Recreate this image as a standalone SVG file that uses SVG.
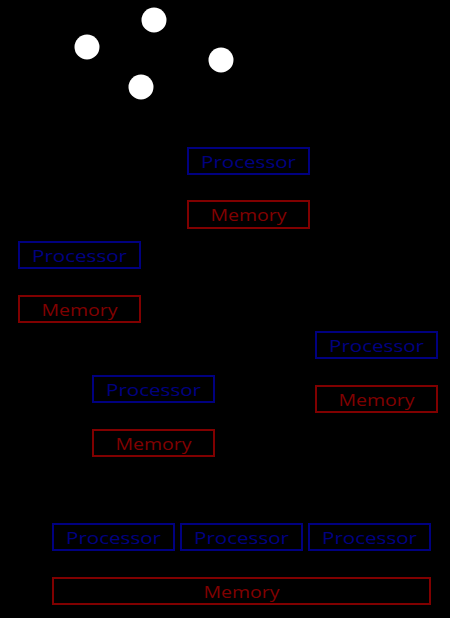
<svg xmlns="http://www.w3.org/2000/svg" width="450" height="618" viewBox="0 0 450 618">
<style>
.p rect{fill:none;stroke:#000080;stroke-width:2}
.p text{fill:#000080}
.m rect{fill:none;stroke:#800000;stroke-width:2}
.m text{fill:#800000}
text{font-family:"Open Sans","DejaVu Sans",sans-serif;font-size:17px;text-anchor:middle;dominant-baseline:central}
.dot{fill:#fff}
</style>
<rect width="450" height="618" fill="#000"/>
<g id="dots">
<circle class="dot" cx="154" cy="20" r="12.5"/>
<circle class="dot" cx="87" cy="47" r="12.5"/>
<circle class="dot" cx="221" cy="60" r="12.5"/>
<circle class="dot" cx="141" cy="87" r="12.5"/>
</g>
<g id="p1" class="p"><rect x="188" y="148" width="121" height="26"/><text x="248.5" y="161" textLength="95" lengthAdjust="spacingAndGlyphs">Processor</text></g>
<g id="m1" class="m"><rect x="188" y="201" width="121" height="27"/><text x="248.5" y="214.5" textLength="76" lengthAdjust="spacingAndGlyphs">Memory</text></g>
<g id="p2" class="p"><rect x="19" y="242" width="121" height="26"/><text x="79.5" y="255" textLength="95" lengthAdjust="spacingAndGlyphs">Processor</text></g>
<g id="m2" class="m"><rect x="19" y="296" width="121" height="26"/><text x="79.5" y="309" textLength="76" lengthAdjust="spacingAndGlyphs">Memory</text></g>
<g id="p3" class="p"><rect x="316" y="332" width="121" height="26"/><text x="376.5" y="345" textLength="95" lengthAdjust="spacingAndGlyphs">Processor</text></g>
<g id="m3" class="m"><rect x="316" y="386" width="121" height="26"/><text x="376.5" y="399" textLength="76" lengthAdjust="spacingAndGlyphs">Memory</text></g>
<g id="p4" class="p"><rect x="93" y="376" width="121" height="26"/><text x="153.5" y="389" textLength="95" lengthAdjust="spacingAndGlyphs">Processor</text></g>
<g id="m4" class="m"><rect x="93" y="430" width="121" height="26"/><text x="153.5" y="443" textLength="76" lengthAdjust="spacingAndGlyphs">Memory</text></g>
<g id="p5" class="p"><rect x="53" y="524" width="121" height="26"/><text x="113.5" y="537" textLength="95" lengthAdjust="spacingAndGlyphs">Processor</text></g>
<g id="p6" class="p"><rect x="181" y="524" width="121" height="26"/><text x="241.5" y="537" textLength="95" lengthAdjust="spacingAndGlyphs">Processor</text></g>
<g id="p7" class="p"><rect x="309" y="524" width="121" height="26"/><text x="369.5" y="537" textLength="95" lengthAdjust="spacingAndGlyphs">Processor</text></g>
<g id="m5" class="m"><rect x="53" y="578" width="377" height="26"/><text x="241.5" y="591" textLength="76" lengthAdjust="spacingAndGlyphs">Memory</text></g>
<g id="connectors"/>
</svg>
